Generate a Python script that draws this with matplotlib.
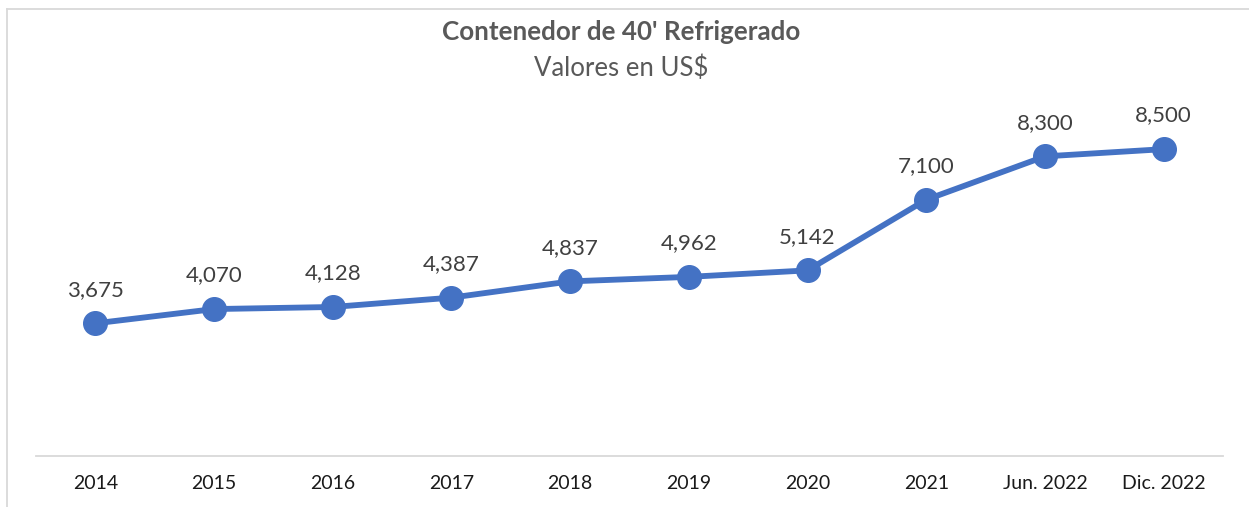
import matplotlib
matplotlib.use("Agg")
import matplotlib.pyplot as plt

categories = ["2014", "2015", "2016", "2017", "2018", "2019", "2020", "2021", "Jun. 2022", "Dic. 2022"]
values = [3675, 4070, 4128, 4387, 4837, 4962, 5142, 7100, 8300, 8500]

plt.rcParams['font.family'] = ['Lato', 'DejaVu Sans']

W, H = 1249, 507
fig = plt.figure(figsize=(W / 100, H / 100), dpi=100)
ax = fig.add_axes([36 / W, (H - 456) / H, (1223 - 36) / W, (456 - 95) / H])

x = list(range(len(categories)))
ax.plot(x, values, color="#4472C4", linewidth=4.2, marker="o", markersize=17,
        markerfacecolor="#4472C4", markeredgecolor="#4472C4", solid_capstyle="round", zorder=3)

for xi, v in zip(x, values):
    ax.annotate(f"{v:,}", (xi, v), xytext=(0, 17), textcoords="offset points",
                ha="center", va="bottom", fontsize=16, color="#404040")

ax.set_xlim(-0.5, len(categories) - 0.5)
ax.set_ylim(0, 10000)
ax.set_xticks(x)
ax.set_xticklabels(categories, fontsize=14, color="#1a1a1a")
ax.tick_params(axis="x", length=0, pad=14)
ax.set_yticks([])
for s in ["top", "right", "left"]:
    ax.spines[s].set_visible(False)
ax.spines["bottom"].set_color("#d9d9d9")
ax.spines["bottom"].set_linewidth(1.3)

fig.text(621 / W, 1 - 32 / H, "Contenedor de 40' Refrigerado", ha="center", va="center",
         fontsize=18.7, fontweight="bold", color="#595959")
fig.text(621 / W, 1 - 68 / H, "Valores en US$", ha="center", va="center",
         fontsize=18.5, color="#595959")

# chart border (top and left visible)
fig.add_artist(plt.Line2D([7 / W, 1], [1 - 9 / H, 1 - 9 / H], transform=fig.transFigure,
                          color="#d9d9d9", linewidth=1.3))
fig.add_artist(plt.Line2D([7 / W, 7 / W], [0, 1 - 9 / H], transform=fig.transFigure,
                          color="#d9d9d9", linewidth=1.3))

fig.savefig("out.png", dpi=100)
